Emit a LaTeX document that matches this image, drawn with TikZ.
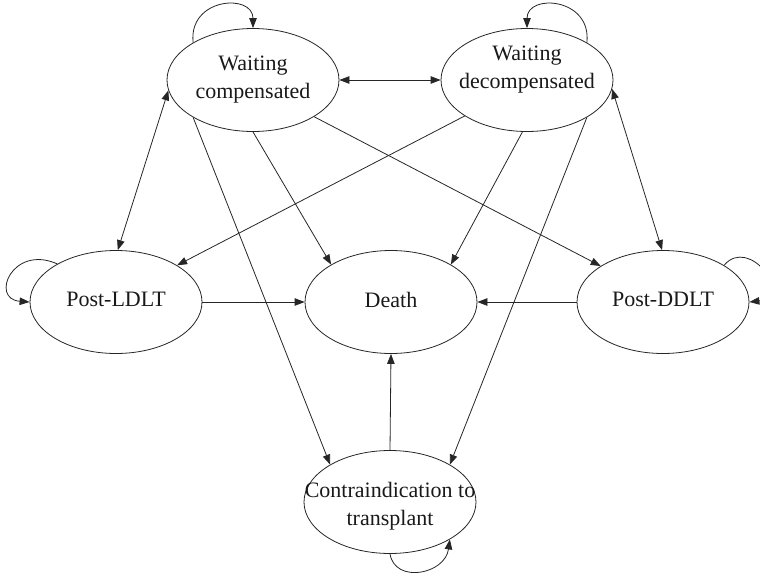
\documentclass[tikz,border=0pt]{standalone}
\usepackage{fontspec}
\setmainfont{Liberation Serif}
\usetikzlibrary{arrows.meta,shapes.geometric}
\begin{document}
\begin{tikzpicture}[x=1pt,y=-1pt,
  state/.style={draw=black!85, ellipse, line width=0.8pt, minimum width=172pt, minimum height=103pt, inner sep=0pt},
  lbl/.style={align=center, font=\fontsize{22}{28}\selectfont, inner sep=0pt, text=black!90},
  edge/.style={draw=black!85, line width=0.8pt, -{Triangle[length=10pt,width=7.5pt]}},
  dedge/.style={draw=black!85, line width=0.8pt, {Triangle[length=10pt,width=7.5pt]}-{Triangle[length=10pt,width=7.5pt]}}]
\useasboundingbox (0,0) rectangle (760,581);
% states
\node[state] (wc) at (253,80) {};
\node[state] (wd) at (527,80) {};
\node[state] (pl) at (116,302) {};
\node[state] (dt) at (391,302) {};
\node[state] (pd) at (663,302) {};
\node[state] (ct) at (390,502) {};
% labels
\node[lbl] (wct) at (253,80) {Waiting\\compensated};
\node[lbl] (wdt) at (527,70) {Waiting\\decompensated};
\node[lbl] (plt) at (116,299) {Post-LDLT};
\node[lbl] (dtt) at (391,300) {Death};
\node[lbl] (pdt) at (663,299) {Post-DDLT};
\node[lbl] (ctt) at (390,506) {Contraindication to\\transplant};
% self loops
\draw[edge] (wc.148) .. controls +(-5,-45) and +(0,-35) .. (wc.90);
\draw[edge] (wd.32) .. controls +(5,-45) and +(0,-35) .. (wd.90);
\draw[edge] (pl.147) .. controls +(-45,-20) and +(-40,-3) .. (pl.180);
\draw[edge] (pd.31) .. controls +(25,-30) and +(45,-5) .. (pd.0);
\draw[edge] (ct.270) .. controls +(5,30) and +(-5,35) .. (ct.328);
% double arrows
\draw[dedge] (wc.east) -- (wd.west);
\draw[dedge] (wc.187) -- (pl.88);
\draw[dedge] (wd.354) -- (pd.91);
% transitions
\draw[edge] (wc.270) -- (dt.148);
\draw[edge] (wc.212) -- (ct.148);
\draw[edge] (wc.329) -- (pd.150);
\draw[edge] (wd.210) -- (pl.31);
\draw[edge] (wd.265) -- (dt.32);
\draw[edge] (wd.328) -- (ct.32);
\draw[edge] (pl.east) -- (dt.west);
\draw[edge] (pd.west) -- (dt.east);
\draw[edge] (ct.north) -- (dt.south);
\end{tikzpicture}
\end{document}
